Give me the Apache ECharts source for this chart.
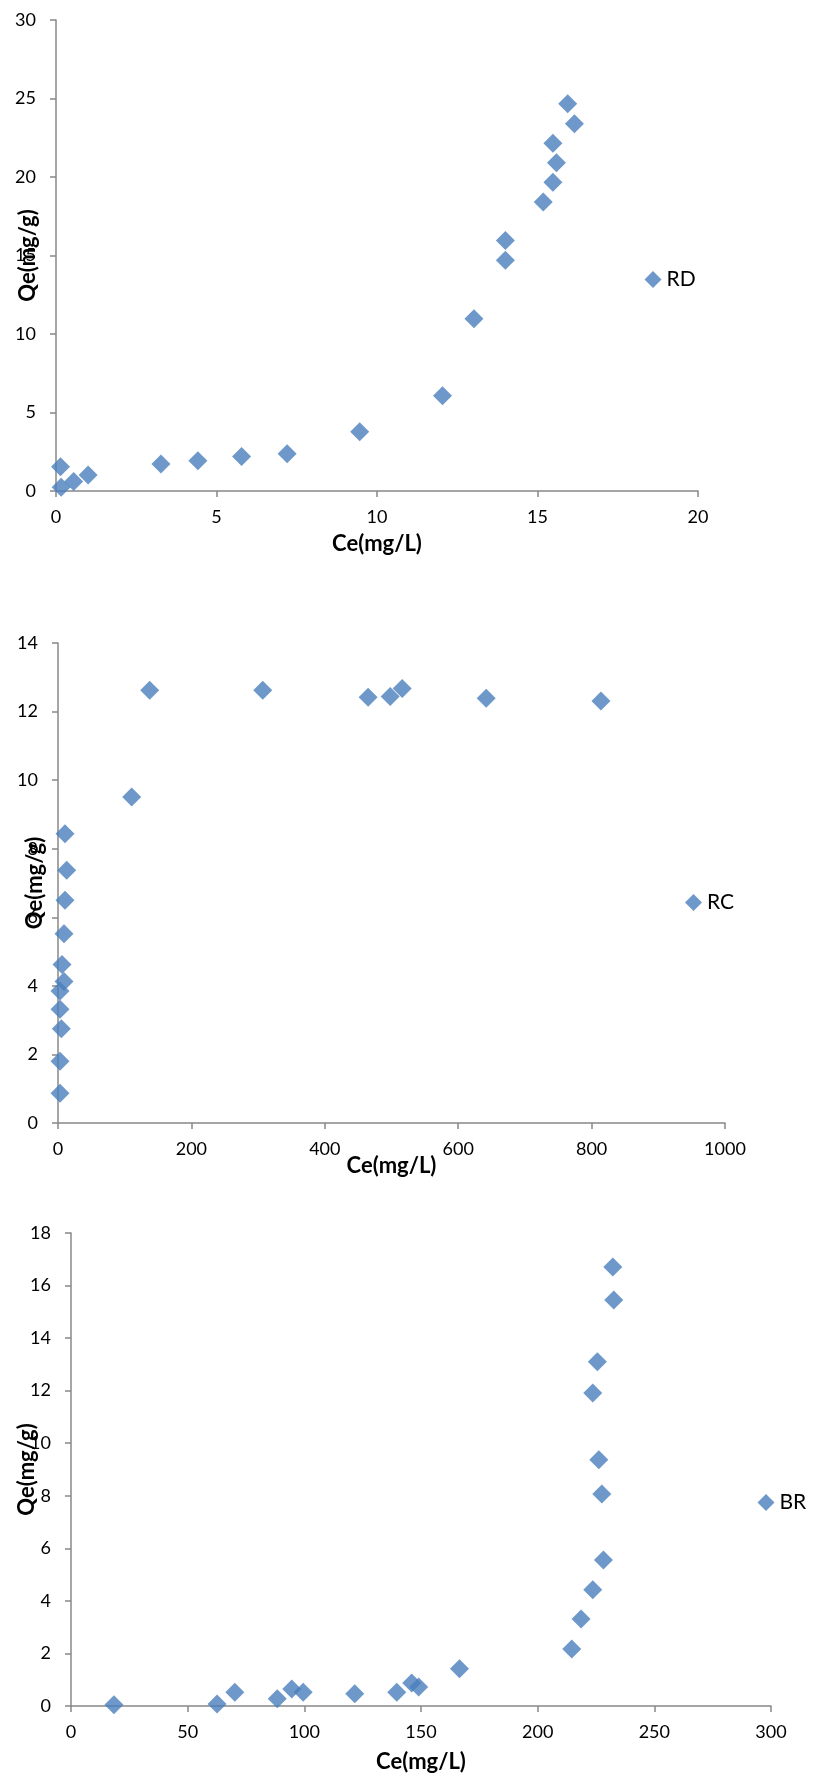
<!DOCTYPE html>
<html>
<head>
<meta charset="utf-8">
<script src="https://cdn.jsdelivr.net/npm/echarts@6/dist/echarts.min.js"></script>
<style>
html,body{margin:0;padding:0;background:#fff;}
#chart{width:814px;height:1782px;}
</style>
</head>
<body>
<div id="chart"></div>
<script>
// ---- Data ----
const seriesNames = ['RD', 'RC', 'BR'];
const xTitle = 'Ce(mg/L)';
const yTitle = 'Qe(mg/g)';

const rdCe = [0.14, 0.16, 0.55, 1.0, 3.27, 4.42, 5.78, 7.2, 9.46, 12.04, 13.02, 14.0, 14.0, 15.18, 15.48, 15.59, 15.48, 15.94, 16.15];
const rdQe = [1.55, 0.24, 0.6, 1.02, 1.72, 1.93, 2.19, 2.38, 3.78, 6.06, 10.97, 14.69, 15.96, 18.41, 19.66, 20.9, 22.15, 24.66, 23.39];

const rcCe = [3, 3, 5, 3, 3, 9, 6, 9, 10.5, 13, 10.5, 110.5, 137.5, 307, 465, 498, 516, 642, 814];
const rcQe = [0.87, 1.8, 2.75, 3.32, 3.85, 4.13, 4.62, 5.52, 6.5, 7.37, 8.44, 9.51, 12.62, 12.62, 12.42, 12.44, 12.67, 12.39, 12.31];

const brCe = [18.4, 62.6, 70.2, 88.4, 94.6, 99.5, 121.6, 139.6, 146, 149, 166.5, 214.6, 218.6, 223.6, 228.2, 227.5, 226.2, 223.6, 225.6, 232.6, 232.2];
const brQe = [0.05, 0.08, 0.52, 0.28, 0.65, 0.52, 0.47, 0.52, 0.88, 0.72, 1.42, 2.17, 3.31, 4.42, 5.56, 8.07, 9.37, 11.91, 13.1, 15.45, 16.71];

// axis ranges / tick steps
const xMax = [20, 1000, 300];
const xStep = [5, 200, 50];
const yMax = [30, 14, 18];
const yStep = [5, 2, 2];

// ---- Build chart ----
const FONT = 'Lato, "Open Sans", sans-serif';
const BLUE = '#4A7EBB';
const AXIS = '#888888';

const grids = [
  {left: 56, right: 814 - 698, top: 20, height: 471},
  {left: 58, right: 814 - 725, top: 643, height: 480},
  {left: 71, right: 814 - 771, top: 1233, height: 473}
];
const xNameGap = [42, 32, 45];
const yNameGap = [17, 12, 33];
const legendPos = [
  {left: 644.5, top: 269},
  {left: 685, top: 892},
  {left: 757.5, top: 1492}
];
const pairs = [[rdCe, rdQe], [rcCe, rcQe], [brCe, brQe]];

function axisCommon() {
  return {
    axisLine: {show: true, onZero: false, lineStyle: {color: AXIS, width: 1.5}},
    axisTick: {show: true, inside: false, length: 6, lineStyle: {color: AXIS, width: 1.5}},
    splitLine: {show: false},
    axisLabel: {color: '#000', fontFamily: FONT, fontSize: 18, formatter: v => String(v)},
    nameMoveOverlap: false,
    nameTextStyle: {color: '#000', fontFamily: FONT, fontSize: 22, fontWeight: 'bold'}
  };
}

const xAxes = [], yAxes = [], series = [], legends = [];
for (let i = 0; i < 3; i++) {
  const xa = axisCommon();
  Object.assign(xa, {
    type: 'value', gridIndex: i, min: 0, max: xMax[i], interval: xStep[i],
    name: xTitle, nameLocation: 'middle', nameGap: xNameGap[i]
  });
  xa.axisLabel.margin = 17;
  xAxes.push(xa);

  const ya = axisCommon();
  Object.assign(ya, {
    type: 'value', gridIndex: i, min: 0, max: yMax[i], interval: yStep[i],
    name: yTitle, nameLocation: 'middle', nameGap: yNameGap[i]
  });
  ya.axisLabel.margin = 20;
  yAxes.push(ya);

  series.push({
    name: seriesNames[i], type: 'scatter', xAxisIndex: i, yAxisIndex: i,
    symbol: 'diamond', symbolSize: 19,
    itemStyle: {color: BLUE},
    data: pairs[i][0].map((x, k) => [x, pairs[i][1][k]])
  });

  legends.push({
    data: [{name: seriesNames[i], icon: 'diamond'}],
    left: legendPos[i].left, top: legendPos[i].top,
    orient: 'vertical', padding: 0,
    itemWidth: 17, itemHeight: 17, itemGap: 0,
    textStyle: {color: '#000', fontFamily: FONT, fontSize: 21, lineHeight: 20},
    selectedMode: false
  });
}

const chart = echarts.init(document.getElementById('chart'), null, {renderer: 'canvas'});
chart.setOption({
  animation: false,
  backgroundColor: '#fff',
  grid: grids,
  xAxis: xAxes,
  yAxis: yAxes,
  legend: legends,
  series: series
});
</script>
</body>
</html>
